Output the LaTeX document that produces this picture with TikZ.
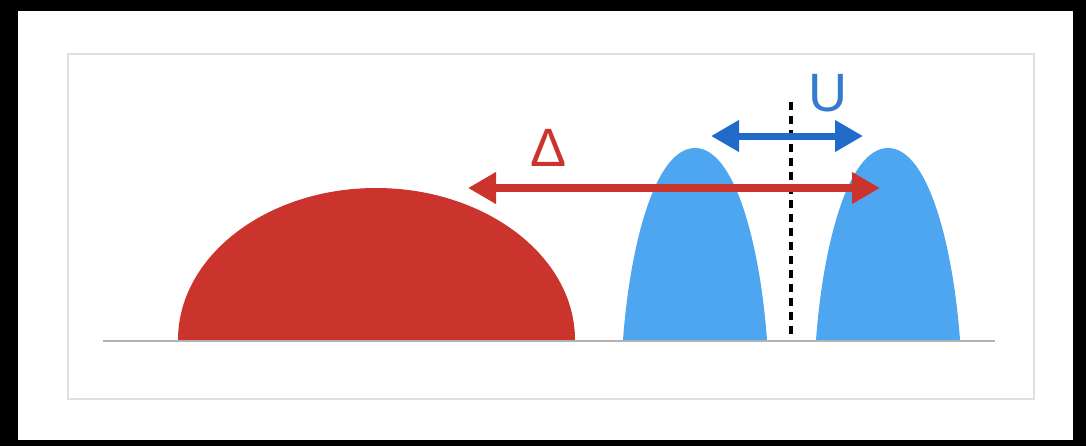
\documentclass[tikz,border=0pt]{standalone}
\usepackage{fontspec}
\setmainfont{Liberation Sans}
\usetikzlibrary{arrows.meta}
\definecolor{domered}{RGB}{203,52,44}
\definecolor{domeblue}{RGB}{78,166,241}
\definecolor{arrowblue}{RGB}{32,106,200}
\definecolor{labelblue}{RGB}{52,122,205}

\begin{document}
\begin{tikzpicture}[x=0.5pt,y=-0.5pt,
  twoway/.style={{Triangle[length=14pt,width=15pt]}-{Triangle[length=14pt,width=15pt]}},
  biglabel/.style={font=\fontsize{27}{30}\selectfont,inner sep=0pt}]
\useasboundingbox (0,0) rectangle (1086,446);
% photo edge and slide frame
\fill (0,0) rectangle (1086,446);\fill[white] (18,11) rectangle (1073,440);
\draw[black!12,line width=1pt] (68,54) rectangle (1034,399);
% red dome
\fill[domered] (178,340) .. controls (178,256) and (267,188) .. (376,188) .. controls (485,188) and (575,256) .. (575,340) -- cycle;
% two blue domes
\foreach \c in {695,888}{
\fill[domeblue] (\c-72,340) .. controls (\c-65,245) and (\c-40,148) .. (\c,148) .. controls (\c+40,148) and (\c+65,245) .. (\c+72,340) -- cycle;}
\draw[black!30,line width=1.3pt] (103,341)--(995,341);
% middle line
\coordinate (mid top) at (791,102);\coordinate (mid bottom) at (791,334);
\draw[line width=2pt,dash pattern=on 4pt off 3pt] (mid top)--(mid bottom);
% gap arrow
\coordinate (gap left) at (468,188);\coordinate (gap right) at (880,188);
\draw[twoway,domered,line width=4pt] (gap left)--(gap right);
\node[biglabel,text=domered] (delta) at (549,148) {Δ};
% splitting arrow
\coordinate (split left) at (711,136);\coordinate (split right) at (863,136);
\draw[twoway,arrowblue,line width=3.5pt] (split left)--(split right);
\node[biglabel,text=labelblue] (u) at (828,93) {U};
\end{tikzpicture}
\end{document}
